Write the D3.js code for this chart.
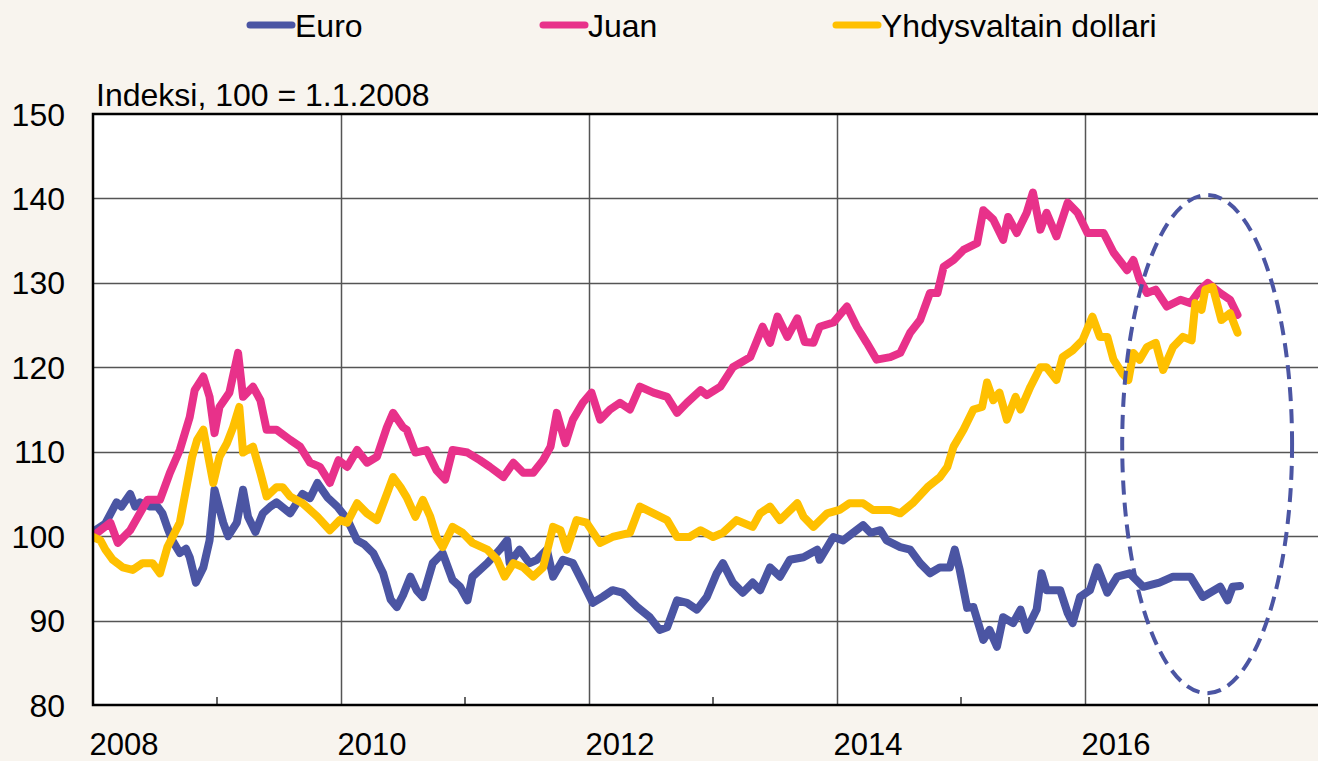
<!DOCTYPE html>
<html>
<head>
<meta charset="utf-8">
<script src="https://cdn.jsdelivr.net/npm/d3@7"></script>
<style>
  html, body { margin: 0; padding: 0; background: #f8f4ee; }
  svg { display: block; }
</style>
</head>
<body>
<script>
/* DATA (decimal year, index value) */
const seriesNames = ['Euro', 'Juan', 'Yhdysvaltain dollari'];
const seriesColors = ['#4b55a3', '#e8318a', '#ffc000'];

const euroData = [
  [2008.00,100.5],[2008.10,101.5],[2008.19,104],[2008.23,103.5],[2008.30,105],[2008.34,103.5],
  [2008.38,104],[2008.46,103.5],[2008.52,103.5],[2008.56,102.7],[2008.60,101],[2008.64,99.5],
  [2008.70,98],[2008.75,98.5],[2008.78,97.5],[2008.83,94.5],[2008.89,96.3],[2008.94,99.5],
  [2008.98,105.5],[2009.05,101.6],[2009.09,100],[2009.16,101.6],[2009.21,105.5],[2009.25,102.3],
  [2009.31,100.5],[2009.37,102.7],[2009.43,103.5],[2009.48,104],[2009.59,102.7],[2009.69,105],
  [2009.75,104.5],[2009.81,106.3],[2009.89,104.6],[2009.97,103.5],[2010.05,102],[2010.13,99.5],
  [2010.19,99],[2010.26,98],[2010.34,95.6],[2010.40,92.5],[2010.45,91.6],[2010.50,93],
  [2010.56,95.2],[2010.61,93.6],[2010.66,92.8],[2010.74,96.8],[2010.82,98],[2010.90,94.8],
  [2010.96,94],[2011.02,92.4],[2011.06,95.2],[2011.18,96.8],[2011.28,98.4],[2011.34,99.5],
  [2011.36,96.8],[2011.44,98.4],[2011.52,96.8],[2011.58,97.2],[2011.66,98.4],[2011.71,95.2],
  [2011.79,97.2],[2011.87,96.8],[2011.95,94.5],[2012.03,92.1],[2012.11,92.8],[2012.19,93.6],
  [2012.27,93.3],[2012.39,91.6],[2012.49,90.4],[2012.57,88.9],[2012.63,89.2],[2012.71,92.4],
  [2012.79,92.1],[2012.87,91.3],[2012.95,92.8],[2013.03,95.6],[2013.08,96.8],[2013.16,94.5],
  [2013.24,93.3],[2013.32,94.5],[2013.38,93.6],[2013.46,96.3],[2013.54,95.2],[2013.62,97.2],
  [2013.73,97.5],[2013.84,98.4],[2013.86,97.2],[2013.97,99.9],[2014.05,99.5],[2014.13,100.4],
  [2014.21,101.3],[2014.27,100.4],[2014.35,100.7],[2014.40,99.5],[2014.51,98.7],[2014.59,98.4],
  [2014.67,96.8],[2014.75,95.6],[2014.83,96.3],[2014.91,96.3],[2014.95,98.4],[2014.99,96],
  [2015.05,91.5],[2015.10,91.6],[2015.18,87.7],[2015.23,88.9],[2015.29,86.9],[2015.34,90.4],
  [2015.42,89.7],[2015.48,91.3],[2015.53,88.9],[2015.61,91.3],[2015.65,95.6],[2015.69,93.6],
  [2015.80,93.6],[2015.86,90.9],[2015.90,89.7],[2015.96,92.8],[2016.04,93.6],[2016.10,96.3],
  [2016.18,93.3],[2016.26,95.2],[2016.36,95.6],[2016.47,94],[2016.60,94.5],[2016.71,95.2],
  [2016.85,95.2],[2016.95,92.8],[2017.09,94],[2017.15,92.4],[2017.19,94],[2017.25,94.1]
];

const juanData = [
  [2008.00,100],[2008.14,101.6],[2008.20,99.2],[2008.30,100.7],[2008.44,104.3],[2008.54,104.3],
  [2008.62,107.5],[2008.70,110.2],[2008.78,114.1],[2008.82,117.3],[2008.89,118.9],[2008.94,116.5],
  [2008.98,112.2],[2009.02,115.3],[2009.10,117],[2009.17,121.7],[2009.21,116.5],[2009.29,117.7],
  [2009.35,116.1],[2009.40,112.6],[2009.48,112.6],[2009.59,111.4],[2009.67,110.6],[2009.75,108.7],
  [2009.83,108.2],[2009.91,106.3],[2009.98,109],[2010.05,108.2],[2010.13,110.2],[2010.21,108.7],
  [2010.29,109.4],[2010.37,112.9],[2010.42,114.6],[2010.50,112.9],[2010.53,112.6],[2010.60,109.9],
  [2010.69,110.2],[2010.77,107.8],[2010.84,106.7],[2010.90,110.2],[2011.02,109.9],[2011.12,109],
  [2011.20,108.2],[2011.31,107],[2011.39,108.7],[2011.47,107.5],[2011.55,107.5],[2011.63,109],
  [2011.69,110.6],[2011.74,114.6],[2011.81,111],[2011.87,113.8],[2011.95,115.8],[2012.02,117],
  [2012.09,113.8],[2012.17,115],[2012.25,115.8],[2012.33,115],[2012.41,117.7],[2012.52,117],
  [2012.63,116.5],[2012.71,114.6],[2012.79,115.8],[2012.90,117.3],[2012.95,116.7],[2013.06,117.7],
  [2013.16,120],[2013.30,121.2],[2013.40,124.8],[2013.46,122.9],[2013.52,126],[2013.60,123.6],
  [2013.68,125.8],[2013.74,123],[2013.81,122.9],[2013.86,124.8],[2013.97,125.3],[2014.08,127.2],
  [2014.16,124.8],[2014.24,122.9],[2014.32,120.9],[2014.43,121.2],[2014.51,121.7],[2014.59,124.1],
  [2014.67,125.6],[2014.75,128.8],[2014.81,128.8],[2014.86,131.9],[2014.94,132.7],[2015.02,133.9],
  [2015.13,134.7],[2015.18,138.6],[2015.26,137.5],[2015.34,135.1],[2015.38,137.8],[2015.45,135.9],
  [2015.53,138.3],[2015.58,140.7],[2015.64,136.3],[2015.69,138.3],[2015.77,135.5],[2015.86,139.5],
  [2015.94,138.3],[2016.02,135.9],[2016.10,135.9],[2016.15,135.9],[2016.23,133.6],[2016.34,131.5],
  [2016.39,132.7],[2016.44,130.4],[2016.50,128.8],[2016.57,129.2],[2016.66,127.2],[2016.77,128],
  [2016.85,127.6],[2016.93,129.2],[2016.99,130],[2017.09,128.8],[2017.17,128],[2017.23,126.2]
];

const usdData = [
  [2008.00,99.9],[2008.06,99.5],[2008.10,98.4],[2008.16,97.2],[2008.24,96.3],[2008.32,96],
  [2008.40,96.8],[2008.48,96.8],[2008.54,95.6],[2008.60,98.7],[2008.70,101.6],[2008.76,106.3],
  [2008.80,109.4],[2008.84,111.4],[2008.89,112.6],[2008.93,109.4],[2008.97,106.3],[2009.02,109.4],
  [2009.08,111],[2009.13,112.9],[2009.18,115.3],[2009.21,109.9],[2009.29,110.6],[2009.35,107.5],
  [2009.40,104.7],[2009.48,105.8],[2009.53,105.8],[2009.59,104.7],[2009.69,103.9],[2009.81,102.3],
  [2009.91,100.7],[2009.99,101.9],[2010.05,101.6],[2010.13,103.9],[2010.21,102.7],[2010.29,101.9],
  [2010.37,105],[2010.42,107],[2010.48,105.8],[2010.53,104.6],[2010.60,102.3],[2010.66,104.3],
  [2010.72,102.3],[2010.77,99.9],[2010.82,98.7],[2010.90,101.1],[2010.98,100.4],[2011.06,99.2],
  [2011.18,98.4],[2011.26,97.2],[2011.32,95.2],[2011.39,96.8],[2011.47,96.3],[2011.55,95.2],
  [2011.63,96.3],[2011.71,101.1],[2011.77,100.7],[2011.82,98.4],[2011.90,101.9],[2011.98,101.6],
  [2012.09,99.2],[2012.19,99.9],[2012.33,100.4],[2012.41,103.5],[2012.52,102.7],[2012.63,101.9],
  [2012.71,99.9],[2012.81,99.9],[2012.90,100.7],[2013.00,99.9],[2013.08,100.4],[2013.19,101.9],
  [2013.32,101.1],[2013.38,102.7],[2013.46,103.5],[2013.54,101.9],[2013.68,103.9],[2013.73,102.3],
  [2013.81,101.1],[2013.92,102.7],[2014.02,103.1],[2014.10,103.9],[2014.21,103.9],[2014.29,103.1],
  [2014.43,103.1],[2014.51,102.7],[2014.61,103.9],[2014.73,105.8],[2014.83,107],[2014.89,108.2],
  [2014.94,110.6],[2015.02,112.6],[2015.10,115],[2015.17,115.3],[2015.21,118.2],[2015.26,116.1],
  [2015.31,117],[2015.37,113.8],[2015.44,116.5],[2015.48,115],[2015.56,117.7],[2015.64,120],
  [2015.69,120],[2015.77,118.5],[2015.82,121.2],[2015.90,122],[2015.98,123.2],[2016.06,126],
  [2016.12,123.6],[2016.18,123.6],[2016.23,120.9],[2016.30,119.3],[2016.35,118.5],[2016.39,121.7],
  [2016.44,120.9],[2016.50,122.4],[2016.57,122.9],[2016.63,119.7],[2016.71,122.4],[2016.79,123.6],
  [2016.86,123.2],[2016.89,127.6],[2016.94,126.8],[2016.97,129.2],[2017.03,129.5],[2017.10,125.6],
  [2017.17,126.4],[2017.23,124.1]
];

const yTicks = [80, 90, 100, 110, 120, 130, 140, 150];
const labelYears = [2008, 2010, 2012, 2014, 2016];
const minorYears = [2009, 2011, 2013, 2015, 2017];
const axisTitle = 'Indeksi, 100 = 1.1.2008';
// dashed ellipse marking the latest period: [x from, x to] in years, [y from, y to] in index points
const highlightYears = [2016.30, 2017.67];
const highlightValues = [81.4, 140.4];

/* LAYOUT */
const width = 1318, height = 761;
const plotLeft = 93, plotTop = 114, plotBottom = 705;
const font = '"Liberation Sans", Arial, sans-serif';

const x = d3.scaleLinear().domain([2008, 2018]).range([plotLeft, plotLeft + 1240]);
const y = d3.scaleLinear().domain([80, 150]).range([plotBottom, plotTop]);

const svg = d3.select('body').append('svg')
    .attr('width', width)
    .attr('height', height)
    .style('font-family', font);

svg.append('rect')
    .attr('width', width).attr('height', height)
    .attr('fill', '#f8f4ee');

// plot background
svg.append('rect')
    .attr('x', plotLeft).attr('y', plotTop)
    .attr('width', width - plotLeft).attr('height', plotBottom - plotTop)
    .attr('fill', '#ffffff');

// horizontal grid
svg.append('g').selectAll('line')
    .data(yTicks.filter(d => d > 80 && d < 150))
    .join('line')
    .attr('x1', plotLeft).attr('x2', width)
    .attr('y1', d => Math.round(y(d)) + 0.5).attr('y2', d => Math.round(y(d)) + 0.5)
    .attr('stroke', '#555').attr('stroke-width', 1.5);

// vertical grid
svg.append('g').selectAll('line')
    .data(labelYears.filter(d => d > 2008))
    .join('line')
    .attr('x1', d => Math.round(x(d)) + 0.5).attr('x2', d => Math.round(x(d)) + 0.5)
    .attr('y1', plotTop).attr('y2', plotBottom)
    .attr('stroke', '#555').attr('stroke-width', 1.5);

// minor ticks on the bottom axis
svg.append('g').selectAll('line')
    .data(minorYears)
    .join('line')
    .attr('x1', d => x(d)).attr('x2', d => x(d))
    .attr('y1', plotBottom).attr('y2', plotBottom - 8)
    .attr('stroke', '#333').attr('stroke-width', 1.5);

// clip for series
svg.append('clipPath').attr('id', 'plotClip')
  .append('rect')
    .attr('x', plotLeft).attr('y', plotTop)
    .attr('width', width - plotLeft).attr('height', plotBottom - plotTop);

const line = d3.line()
    .x(d => x(d[0]))
    .y(d => y(d[1]))
    .curve(d3.curveLinear);

const seriesData = [euroData, juanData, usdData];
const lines = svg.append('g').attr('clip-path', 'url(#plotClip)');
// draw order: euro first, juan, then dollar on top
[0, 1, 2].forEach(i => {
  lines.append('path')
      .datum(seriesData[i])
      .attr('d', line)
      .attr('fill', 'none')
      .attr('stroke', seriesColors[i])
      .attr('stroke-width', 8)
      .attr('stroke-linejoin', 'round')
      .attr('stroke-linecap', 'round');
});

// dashed ellipse
const ex0 = x(highlightYears[0]), ex1 = x(highlightYears[1]);
const ey0 = y(highlightValues[1]), ey1 = y(highlightValues[0]);
svg.append('ellipse')
    .attr('cx', (ex0 + ex1) / 2).attr('cy', (ey0 + ey1) / 2)
    .attr('rx', (ex1 - ex0) / 2).attr('ry', (ey1 - ey0) / 2)
    .attr('fill', 'none')
    .attr('stroke', seriesColors[0])
    .attr('stroke-width', 4)
    .attr('stroke-dasharray', '14,8');

// axes frame: top, left, bottom
svg.append('path')
    .attr('d', `M${width},${plotTop}H${plotLeft}V${plotBottom}H${width}`)
    .attr('fill', 'none')
    .attr('stroke', '#000')
    .attr('stroke-width', 2.5);

// y labels
svg.append('g').selectAll('text')
    .data(yTicks)
    .join('text')
    .attr('x', 65)
    .attr('y', d => y(d))
    .attr('dy', '0.36em')
    .attr('text-anchor', 'end')
    .style('font-size', '32px')
    .attr('fill', '#000')
    .text(d => d);

// x labels (offset a quarter year right of the gridline, as in the source)
svg.append('g').selectAll('text')
    .data(labelYears)
    .join('text')
    .attr('x', d => x(d + 0.25))
    .attr('y', 755)
    .attr('text-anchor', 'middle')
    .style('font-size', '31px')
    .attr('fill', '#000')
    .text(d => d);

// axis title
svg.append('text')
    .attr('x', 96).attr('y', 106)
    .style('font-size', '32px')
    .attr('fill', '#000')
    .text(axisTitle);

// legend
const legendX = [250, 543, 836];
const legend = svg.append('g').selectAll('g')
    .data(seriesNames)
    .join('g')
    .attr('transform', (d, i) => `translate(${legendX[i]}, 25)`);

legend.append('line')
    .attr('x1', 0).attr('x2', 42)
    .attr('y1', 0).attr('y2', 0)
    .attr('stroke', (d, i) => seriesColors[i])
    .attr('stroke-width', 7)
    .attr('stroke-linecap', 'round');

legend.append('text')
    .attr('x', 45).attr('y', 12)
    .style('font-size', '32px')
    .attr('fill', '#000')
    .text(d => d);
</script>
</body>
</html>
